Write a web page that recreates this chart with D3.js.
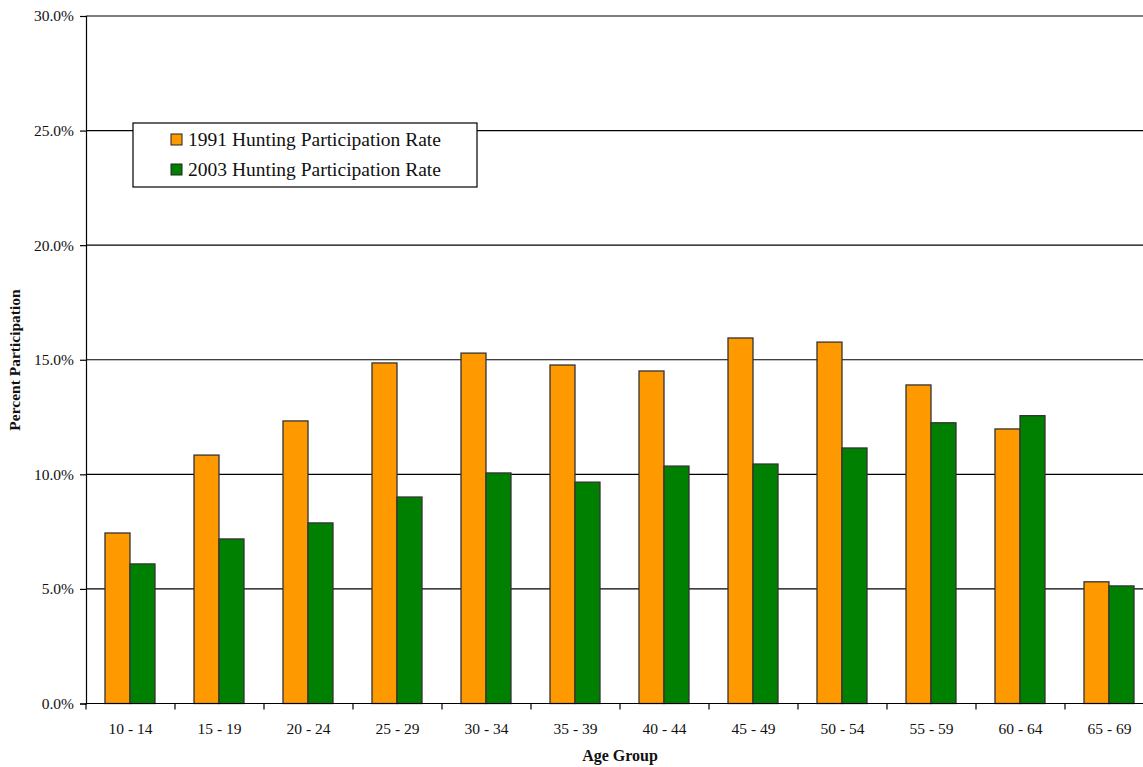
<!DOCTYPE html>
<html>
<head>
<meta charset="utf-8">
<script src="https://cdn.jsdelivr.net/npm/d3@7"></script>
<style>
  body { margin: 0; background: #fff; }
  text { font-family: "Liberation Serif", "DejaVu Serif", serif; fill: #111; }
</style>
</head>
<body>
<div></div>
<script>
const width = 1143;
const height = 767;

const ageGroups = ["10 - 14", "15 - 19", "20 - 24", "25 - 29", "30 - 34", "35 - 39",
  "40 - 44", "45 - 49", "50 - 54", "55 - 59", "60 - 64", "65 - 69"];
const rate1991 = [7.44, 10.84, 12.33, 14.86, 15.29, 14.77, 14.51, 15.95, 15.77, 13.9, 11.98, 5.31];
const rate2003 = [6.09, 7.18, 7.88, 9.01, 10.06, 9.66, 10.36, 10.45, 11.15, 12.25, 12.56, 5.13];
const seriesNames = ["1991 Hunting Participation Rate", "2003 Hunting Participation Rate"];
const yTicks = [0, 5, 10, 15, 20, 25, 30];
const colors = ["#ff9900", "#008000"];

const plotLeft = 86, plotTop = 16, plotBottom = 703.5;
const bandW = 89;

const svg = d3
  .select("div")
  .append("svg")
  .attr("width", width)
  .attr("height", height);

const x = d3.scaleBand()
  .domain(ageGroups)
  .range([plotLeft, plotLeft + bandW * ageGroups.length])
  .paddingInner(0)
  .paddingOuter(0);

const y = d3.scaleLinear().domain([0, 30]).range([plotBottom, plotTop]);

const inner = d3.scaleBand().domain([0, 1]).range([19, 69]);

// gridlines
svg.append("g")
  .selectAll("line")
  .data(yTicks.slice(1))
  .enter()
  .append("line")
  .attr("x1", plotLeft)
  .attr("x2", width)
  .attr("y1", (d) => y(d))
  .attr("y2", (d) => y(d))
  .attr("stroke", "#000")
  .attr("stroke-width", 1.2);

// bars
const rows = ageGroups.map((g, i) => ({ g: g, vals: [rate1991[i], rate2003[i]] }));
const groups = svg.append("g")
  .selectAll("g")
  .data(rows)
  .enter()
  .append("g")
  .attr("transform", (d) => "translate(" + x(d.g) + ",0)");

groups.selectAll("rect")
  .data((d) => d.vals.map((v, k) => ({ v: v, k: k })))
  .enter()
  .append("rect")
  .attr("x", (d) => inner(d.k))
  .attr("width", inner.bandwidth())
  .attr("y", (d) => y(d.v))
  .attr("height", (d) => plotBottom - y(d.v))
  .attr("fill", (d) => colors[d.k])
  .attr("stroke", "#333")
  .attr("stroke-width", 1.3);

// y axis
const yAxis = svg.append("g")
  .attr("transform", "translate(" + plotLeft + ",0)")
  .call(d3.axisLeft(y).tickValues(yTicks).tickSize(6).tickFormat((d) => d.toFixed(1) + "%"));
yAxis.select(".domain").attr("stroke", "#000").attr("stroke-width", 1.2);
yAxis.selectAll(".tick line").attr("stroke", "#000").attr("stroke-width", 1.2);
yAxis.selectAll("text")
  .attr("x", -12)
  .style("font-family", "Liberation Serif")
  .style("font-size", "15.5px")
  .attr("fill", "#1a1a3a");

// x axis
const xAxis = svg.append("g")
  .attr("transform", "translate(0," + plotBottom + ")");
xAxis.append("line")
  .attr("x1", plotLeft).attr("x2", width)
  .attr("stroke", "#000").attr("stroke-width", 1.2);
xAxis.selectAll(".xt")
  .data(ageGroups)
  .enter()
  .append("line")
  .attr("x1", (d) => x(d))
  .attr("x2", (d) => x(d))
  .attr("y1", 0).attr("y2", 6)
  .attr("stroke", "#000").attr("stroke-width", 1.2);
xAxis.selectAll("text")
  .data(ageGroups)
  .enter()
  .append("text")
  .attr("x", (d) => x(d) + bandW / 2)
  .attr("y", 30)
  .attr("text-anchor", "middle")
  .attr("font-size", "15.5px")
  .attr("fill", "#1a1a3a")
  .text((d) => d);

// axis titles
svg.append("text")
  .attr("x", 620)
  .attr("y", 761)
  .attr("text-anchor", "middle")
  .attr("font-size", "16px")
  .attr("font-weight", "bold")
  .text("Age Group");

svg.append("text")
  .attr("transform", "translate(20,360) rotate(-90)")
  .attr("text-anchor", "middle")
  .attr("font-size", "15.5px")
  .attr("font-weight", "bold")
  .text("Percent Participation");

// legend
const legend = svg.append("g").attr("transform", "translate(133,123)");
legend.append("rect")
  .attr("width", 344)
  .attr("height", 64)
  .attr("fill", "#fff")
  .attr("stroke", "#000")
  .attr("stroke-width", 1.2);
const items = legend.selectAll("g")
  .data(seriesNames)
  .enter()
  .append("g")
  .attr("transform", (d, i) => "translate(38," + (11 + i * 30) + ")");
items.append("rect")
  .attr("width", 11)
  .attr("height", 11)
  .attr("fill", (d, i) => colors[i])
  .attr("stroke", "#222")
  .attr("stroke-width", 1);
items.append("text")
  .attr("x", 17)
  .attr("y", 12)
  .attr("font-size", "19.5px")
  .attr("fill", "#1a1a3a")
  .text((d) => d);
</script>
</body>
</html>
